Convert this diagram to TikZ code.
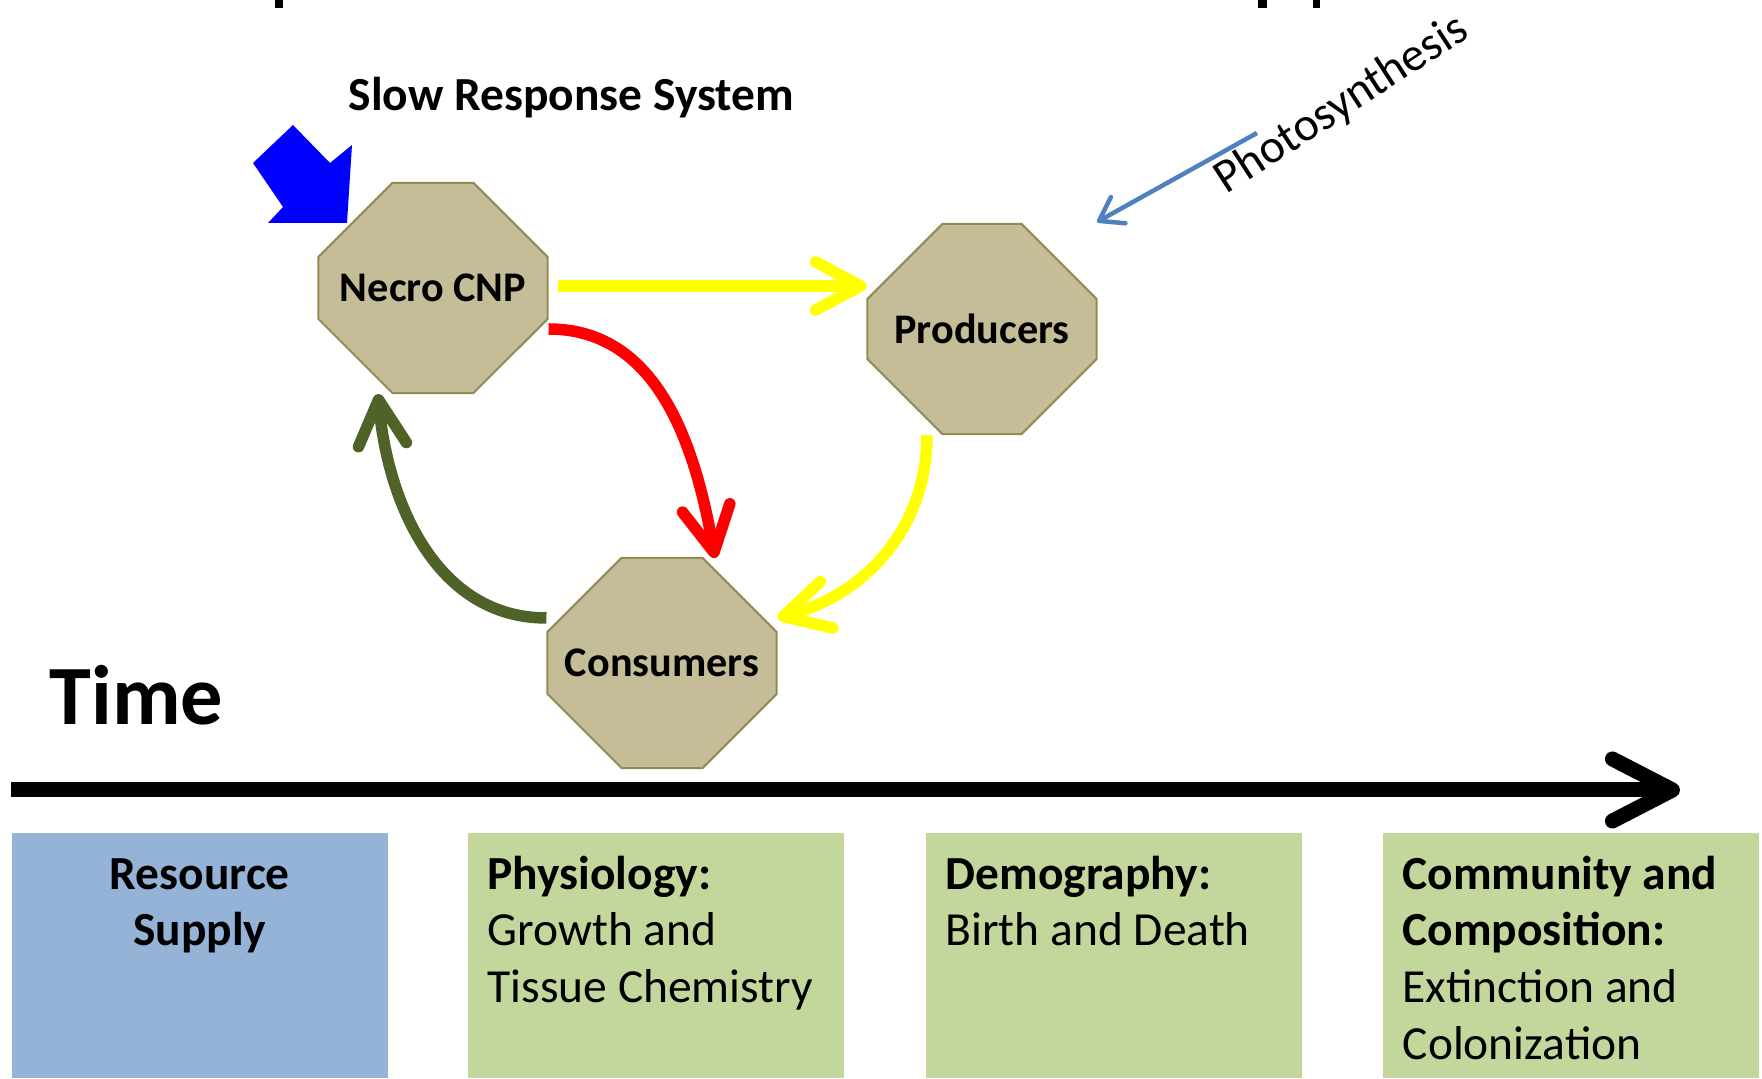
\documentclass[tikz,border=0pt]{standalone}
\usepackage{fontspec}
\setmainfont{Carlito}
\usepackage{tikz}
\usetikzlibrary{arrows.meta}
\usetikzlibrary{calc}
\usetikzlibrary{shapes.misc}
\definecolor{poolfill}{HTML}{C4BD97}
\definecolor{poolline}{HTML}{948A54}
\definecolor{returngreen}{HTML}{4F6228}
\definecolor{lightray}{HTML}{4F81BD}
\definecolor{supplyblue}{HTML}{95B3D7}
\definecolor{stagegreen}{HTML}{C3D69B}
\definecolor{flowyellow}{HTML}{FFFF00}
\definecolor{flowred}{HTML}{FF0000}
\definecolor{inputblue}{HTML}{0000FF}

\begin{document}
\begin{tikzpicture}[x=0.01cm,y=0.01cm,
	pool/.style={draw=poolline,fill=poolfill,line width=0.02cm,shape=chamfered rectangle,chamfered rectangle xsep=0.6cm,chamfered rectangle ysep=0.6cm,minimum width=2.29cm,minimum height=2.1cm,inner sep=0pt,font=\fontsize{12}{14}\selectfont\bfseries},
	flow/.style={line width=0.115cm,-{Straight Barb[length=0.45cm,width=0.48cm,round]}},
	stage/.style={minimum width=3.76cm,minimum height=2.45cm,inner sep=0pt,anchor=south west},
	stagetext/.style={anchor=north west,align=left,inner sep=0pt,font=\fontsize{13.5}{16.2}\selectfont}]
	\useasboundingbox (0,0) rectangle (1762,1079);
	\fill (275,1071) rectangle (283,1079);
	\fill (1258,1071) rectangle (1267,1079);
	\fill (1313,1071) rectangle (1320,1079);
	\draw (348,968) node (srs) [anchor=base west,inner sep=0pt,font=\fontsize{13.5}{16}\selectfont\bfseries] {Slow Response System};
	\draw (433,791) node (NC) [pool] {Necro CNP};
	\draw (982,750) node (PR) [pool] {\raisebox{-1.5pt}{Producers}};
	\draw (662,416) node (CO) [pool] {Consumers};
	\fill[inputblue] (253,916) -- (293,954) -- (330,916) -- (352,934) -- (347,856) -- (268,856) -- (283,872) -- cycle;
	\coordinate (sun) at (1257,946);
	\draw[lightray,line width=0.045cm,-{Straight Barb[length=0.22cm,width=0.3cm,round]}] (sun) -- ($(PR.center)+(115,107)$);
	\draw (1342,974) node (ph) [rotate=33,font=\fontsize{13.5}{16}\selectfont] {Photosynthesis};
	\draw[flow,flowyellow] ($(NC.east)+(9,2)$) -- ($(PR.west)+(0,43)$);
	\draw[flow,flowred] ($(NC.east)+(0,-41)$) to[out=0,in=100] ($(CO.center)+(53,105)$);
	\draw[flow,flowyellow] ($(PR.south)+(-55,0)$) to[out=-90,in=15] ($(CO.east)+(0,45)$);
	\draw[flow,returngreen] ($(CO.west)+(0,45)$) to[out=180,in=-85] ($(NC.south)+(-55,0)$);
	\draw (49,354) node (time) [anchor=base west,inner sep=0pt,font=\fontsize{24}{28}\selectfont\bfseries] {Time};
	\coordinate (t0) at (11,289);
	\coordinate (t1) at (1680,289);
	\draw[line width=0.15cm,-{Straight Barb[length=0.6cm,width=0.62cm,round]}] (t0) -- (t1);
	\draw (11,0) node (S1) [stage,fill=supplyblue] {};
	\draw (467,0) node (S2) [stage,fill=stagegreen] {};
	\draw (925,0) node (S3) [stage,fill=stagegreen] {};
	\draw (1382,0) node (S4) [stage,fill=stagegreen] {};
	\node [stagetext,anchor=north,align=center,font=\fontsize{13.5}{16.2}\selectfont\bfseries] at ($(S1.north)+(0,-16)$) {\strut Resource\\Supply};
	\node [stagetext] at ($(S2.north west)+(20,-16)$) {\strut\textbf{Physiology:}\\Growth and\\Tissue Chemistry};
	\node [stagetext] at ($(S3.north west)+(20,-16)$) {\strut\textbf{Demography:}\\Birth and Death};
	\node [stagetext] at ($(S4.north west)+(20,-16)$) {\strut\textbf{Community and}\\\textbf{Composition:}\\Extinction and\\Colonization};
\end{tikzpicture}
\end{document}
